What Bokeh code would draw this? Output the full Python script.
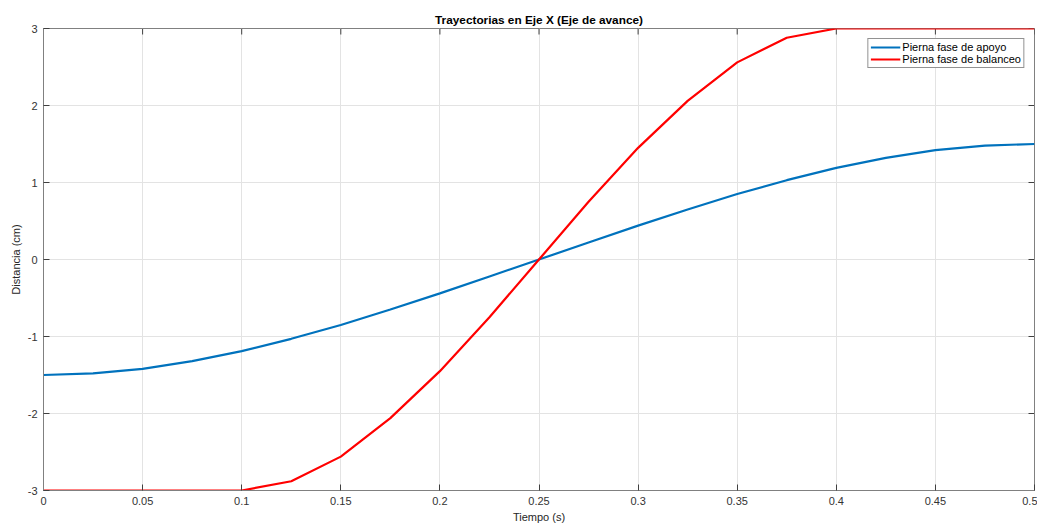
import math
from bokeh.plotting import figure
from bokeh.models import LinearAxis, FixedTicker, Range1d, Legend, LegendItem
from bokeh.embed import file_html
from bokeh.resources import INLINE

t = [0, 0.025, 0.05, 0.075, 0.1, 0.125, 0.15, 0.175, 0.2, 0.225, 0.25,
     0.275, 0.3, 0.325, 0.35, 0.375, 0.4, 0.425, 0.45, 0.475, 0.5]
apoyo = [-1.5, -1.48, -1.42, -1.32, -1.19, -1.03, -0.85, -0.65, -0.44, -0.22, 0.0,
         0.22, 0.44, 0.65, 0.85, 1.03, 1.19, 1.32, 1.42, 1.48, 1.5]
balanceo = [-3, -3, -3, -3, -3, -2.88, -2.56, -2.06, -1.45, -0.75, 0.0,
            0.75, 1.45, 2.06, 2.56, 2.88, 3, 3, 3, 3, 3]
x_ticks = [0, 0.05, 0.1, 0.15, 0.2, 0.25, 0.3, 0.35, 0.4, 0.45, 0.5]
x_labels = ["0", "0.05", "0.1", "0.15", "0.2", "0.25", "0.3", "0.35", "0.4", "0.45", "0.5"]
y_ticks = [-3, -2, -1, 0, 1, 2, 3]
y_labels = ["-3", "-2", "-1", "0", "1", "2", "3"]

p = figure(width=1037, height=525, output_backend="svg", toolbar_location=None,
           x_range=Range1d(0, 0.5), y_range=Range1d(-3, 3),
           x_axis_location=None, y_axis_location=None,
           min_border_left=43, min_border_right=3, min_border_bottom=34, min_border_top=28)
p.title.text = "Trayectorias en Eje X (Eje de avance)"
p.title.align = "center"
p.title.text_font = "Liberation Sans"
p.title.text_font_size = "11.8px"
p.title.text_color = "#000000"
p.title.text_font_style = "bold"
p.title.offset = 0
p.title.standoff = 3

def mk(loc, ticks, labels, label):
    ax = LinearAxis(ticker=FixedTicker(ticks=ticks))
    ax.major_label_overrides = {tk: lb for tk, lb in zip(ticks, labels)}
    ax.major_tick_in = 6
    ax.major_tick_out = 0
    ax.minor_tick_line_color = None
    ax.axis_line_color = "#808080"
    ax.major_tick_line_color = "#404040"
    ax.major_label_text_font = "Liberation Sans"
    ax.major_label_text_font_size = "11px"
    ax.major_label_text_color = "#333333"
    ax.major_label_standoff = 6
    ax.axis_label = label
    ax.axis_label_text_font = "Liberation Sans"
    ax.axis_label_text_font_size = "11px"
    ax.axis_label_text_font_style = "normal"
    ax.axis_label_text_color = "#262626"
    ax.axis_label_standoff = 3
    p.add_layout(ax, loc)
    return ax

mk("below", x_ticks, x_labels, "Tiempo (s)")
mk("left", y_ticks, y_labels, "Distancia (cm)")

# inner ticks on the top and right edges of the box
p.ray(x=x_ticks, y=[3] * len(x_ticks), length=6, length_units="screen",
      angle=-math.pi / 2, line_color="#404040", line_width=1)
p.ray(x=[0.5] * len(y_ticks), y=y_ticks, length=6, length_units="screen",
      angle=math.pi, line_color="#404040", line_width=1)

p.xgrid.ticker = FixedTicker(ticks=x_ticks)
p.ygrid.ticker = FixedTicker(ticks=y_ticks)
p.grid.grid_line_color = "#e3e3e3"
p.grid.grid_line_width = 1
p.outline_line_color = "#808080"

r1 = p.line(t, apoyo, line_color="#0072BD", line_width=2.2)
r2 = p.line(t, balanceo, line_color="#FF0000", line_width=2.2)

legend = Legend(items=[LegendItem(label="Pierna fase de apoyo", renderers=[r1]),
                       LegendItem(label="Pierna fase de balanceo", renderers=[r2])],
                location="top_right")
legend.label_text_font = "Liberation Sans"
legend.label_text_font_size = "11px"
legend.label_text_color = "#000000"
legend.glyph_width = 30
legend.glyph_height = 12
legend.label_height = 12
legend.spacing = 0
legend.padding = 2
legend.margin = 10
legend.label_standoff = 2
legend.border_line_color = "#262626"
legend.border_line_width = 1
legend.background_fill_alpha = 1
p.add_layout(legend)

open("out.html", "w").write(file_html(p, INLINE))
